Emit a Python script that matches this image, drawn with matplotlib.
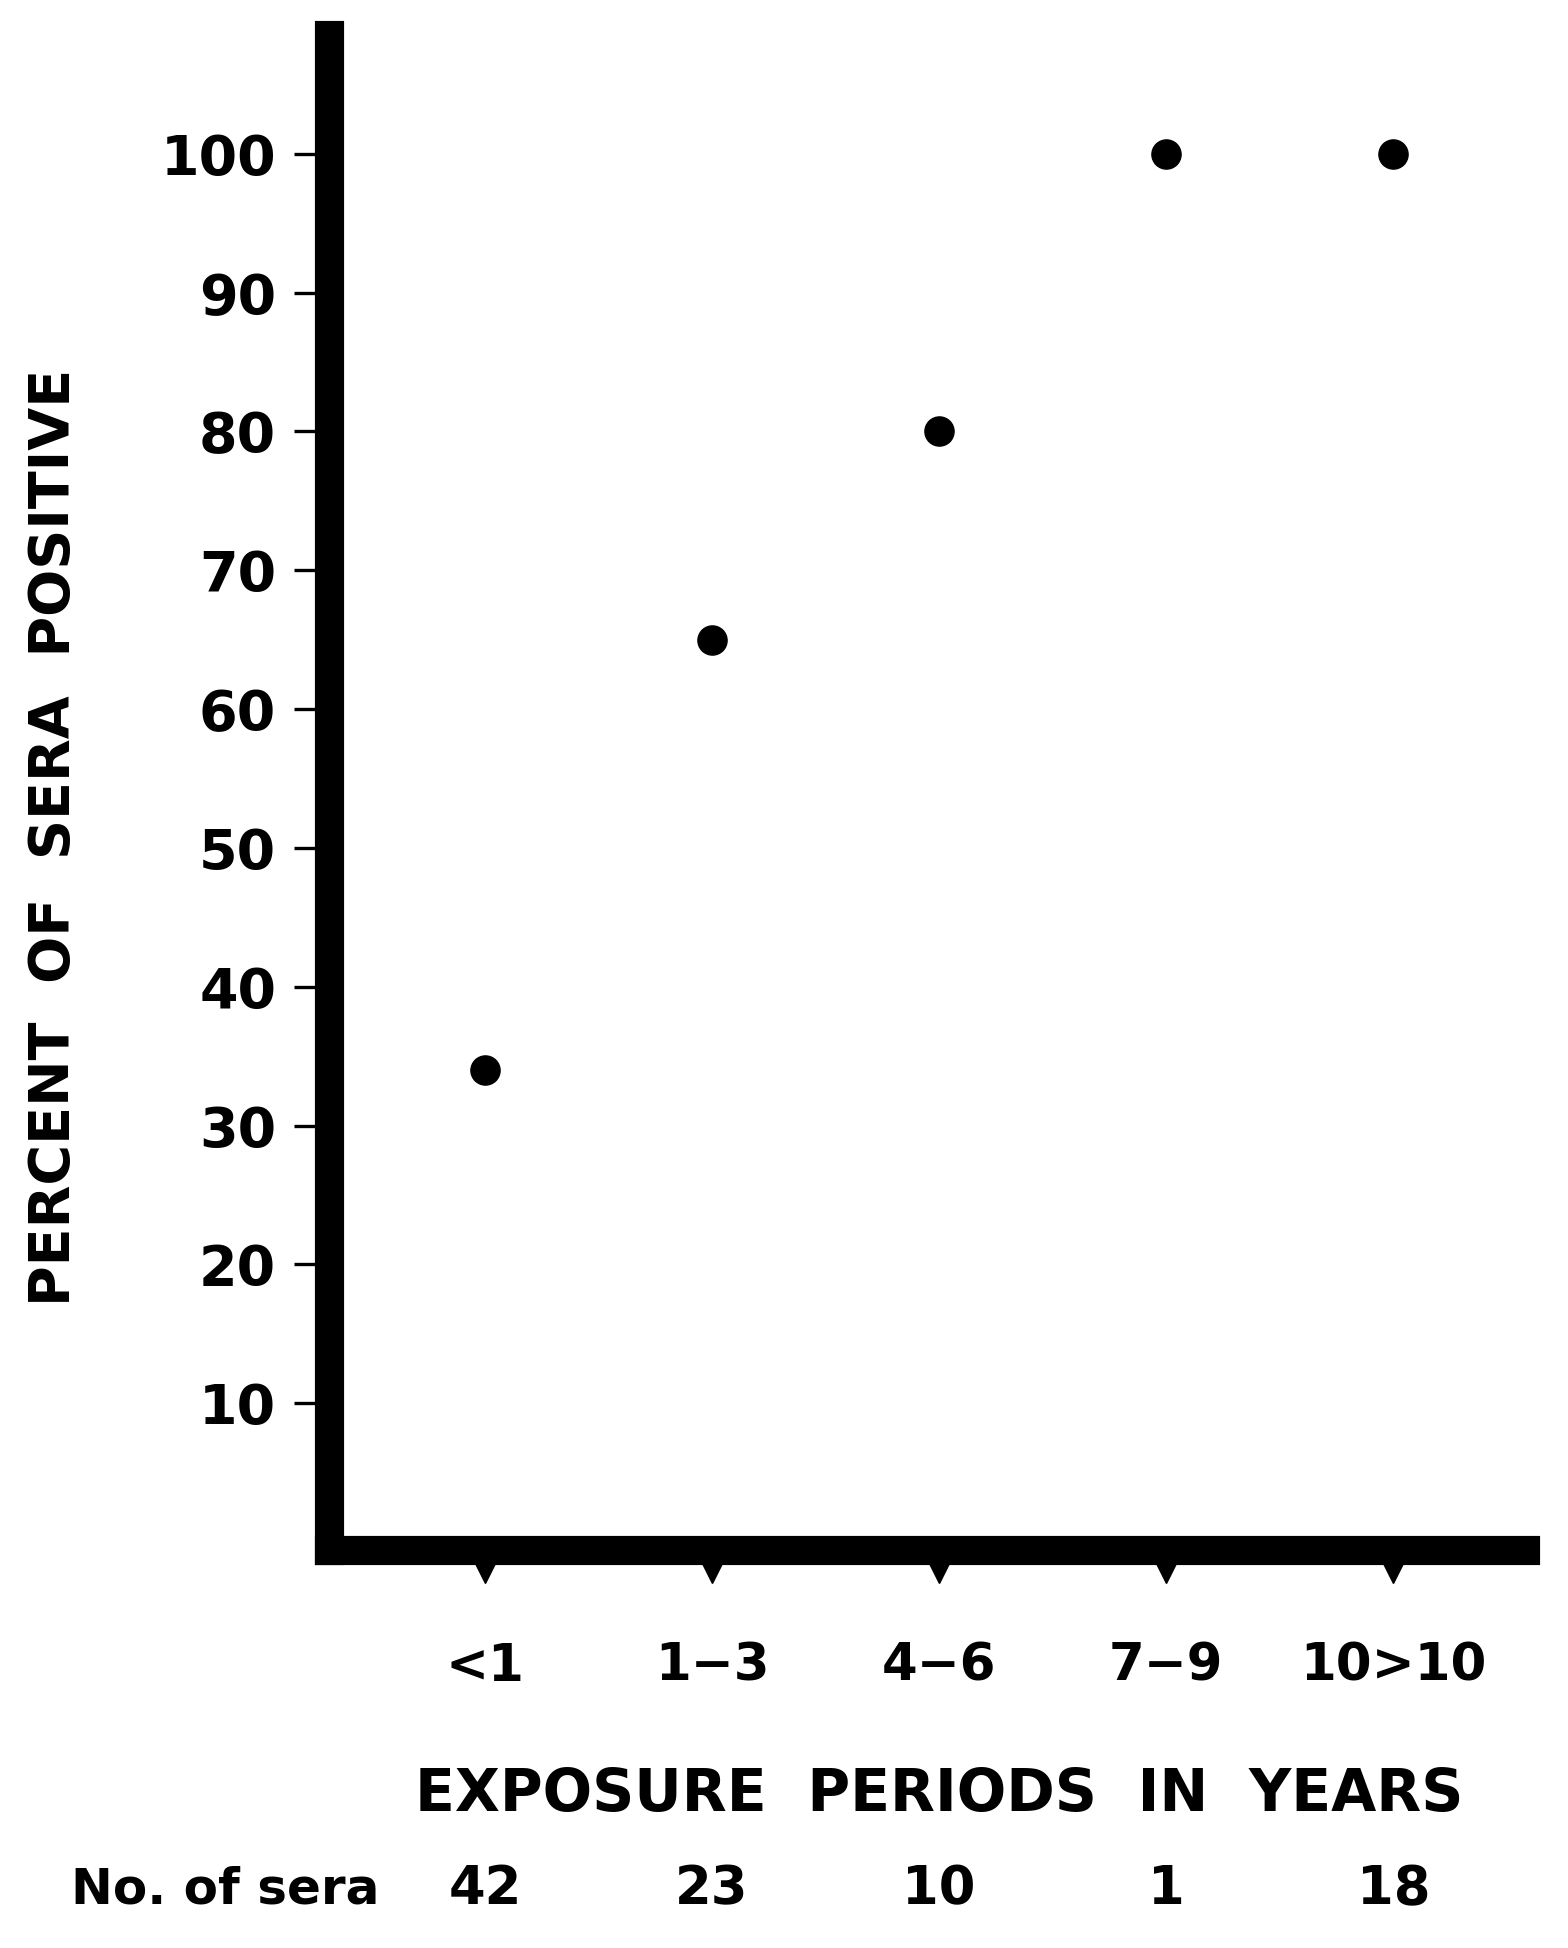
import numpy as np
import matplotlib.pyplot as plt
from matplotlib.transforms import blended_transform_factory

plt.rcParams["font.family"] = ["DejaVu Sans"]
plt.rcParams["font.weight"] = "bold"

periods = ["<1", "1\u22123", "4\u22126", "7\u22129", "10>10"]
percentPositive = [34, 65, 80, 100, 100]
numSera = [42, 23, 10, 1, 18]
yTicks = [10, 20, 30, 40, 50, 60, 70, 80, 90, 100]

W, H = 1568, 1948
fig = plt.figure(figsize=(W / 100, H / 100), dpi=100)
ax = fig.add_axes([329 / W, 1 - 1550 / H, (1525 - 329) / W, (1550 - 34.5) / H])

xpos = np.arange(len(periods))
ax.plot(xpos, percentPositive, "o", color="black", markersize=21, zorder=3)

# triangle markers under the x axis
ax.plot(xpos, np.full(len(xpos), -2.2), "v", color="black", markersize=16, clip_on=False, zorder=1)

ax.set_xlim(-0.687, 4.58)
ax.set_ylim(-0.58, 108.6)

for side in ["top", "right"]:
    ax.spines[side].set_visible(False)
for side in ["left", "bottom"]:
    ax.spines[side].set_linewidth(21)
    ax.spines[side].set_zorder(2)

ax.set_yticks(yTicks)
ax.set_yticklabels([str(t) for t in yTicks], fontsize=40, fontweight="bold")
ax.tick_params(axis="y", length=25, width=2.4, pad=13, direction="out")

ax.set_xticks(xpos)
ax.set_xticklabels(periods, fontsize=37, fontweight="bold")
ax.tick_params(axis="x", length=0, pad=66)

fig.text(54 / W, 1 - 837 / H, "PERCENT  OF  SERA  POSITIVE", rotation=90, fontsize=40, fontweight="bold",
         ha="center", va="center")
fig.text(939 / W, 1 - 1795 / H, "EXPOSURE  PERIODS  IN  YEARS", fontsize=42, fontweight="bold",
         ha="center", va="center")
fig.text(71 / W, 1 - 1889 / H, "No. of sera", fontsize=36, fontweight="bold", ha="left", va="center")

# sample counts under each period
trans = blended_transform_factory(ax.transData, fig.transFigure)
for x, n in zip(xpos, numSera):
    ax.text(x, 1 - 1889 / H, str(n), transform=trans, fontsize=38, fontweight="bold",
            ha="center", va="center")

fig.savefig("out.png", dpi=100, facecolor="white")
